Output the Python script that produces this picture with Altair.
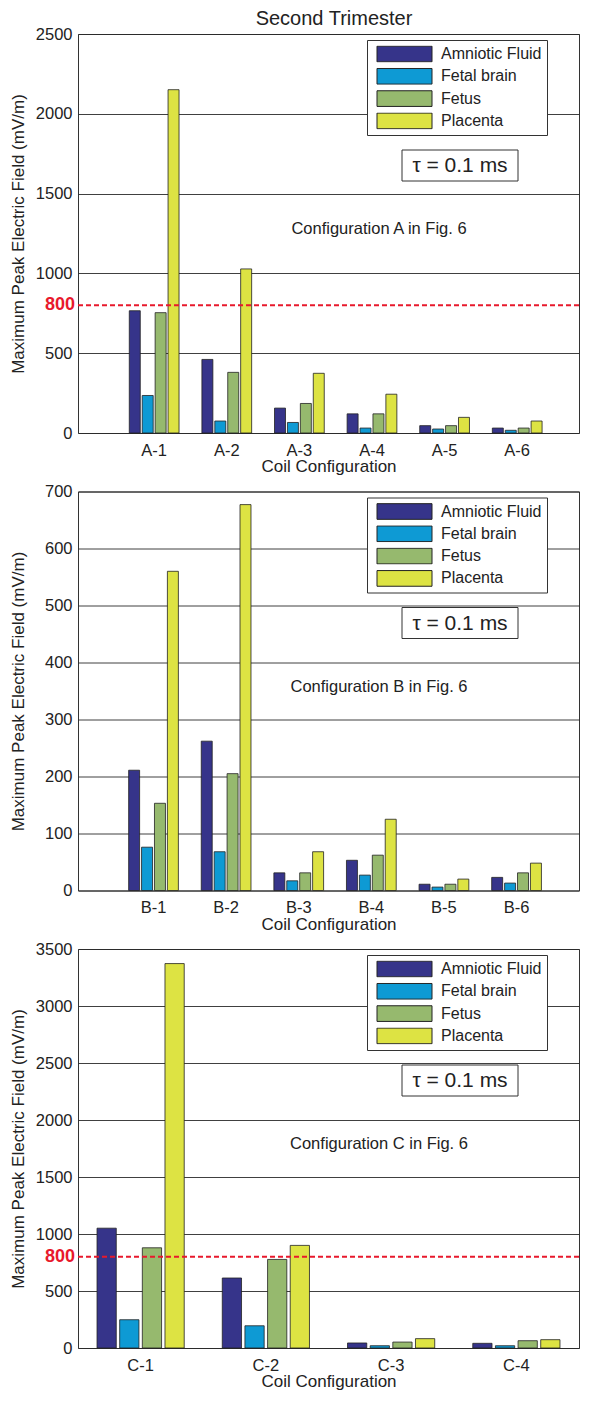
import altair as alt
import pandas as pd

# ---------------- data ----------------
series = ["Amniotic Fluid", "Fetal brain", "Fetus", "Placenta"]
colors = ["#36348a", "#0e9ad4", "#96b96e", "#dde343"]

cats_a = ["A-1", "A-2", "A-3", "A-4", "A-5", "A-6"]
amniotic_a = [766, 461, 156, 120, 46, 31]
brain_a = [235, 75, 66, 31, 25, 17]
fetus_a = [754, 380, 185, 120, 46, 31]
placenta_a = [2151, 1028, 374, 243, 98, 75]
yticks_a = [0, 500, 1000, 1500, 2000, 2500]

cats_b = ["B-1", "B-2", "B-3", "B-4", "B-5", "B-6"]
amniotic_b = [211, 262, 31, 53, 11, 23]
brain_b = [76, 68, 17, 27, 6, 13]
fetus_b = [153, 205, 31, 62, 11, 31]
placenta_b = [560, 677, 68, 125, 20, 48]
yticks_b = [0, 100, 200, 300, 400, 500, 600, 700]

cats_c = ["C-1", "C-2", "C-3", "C-4"]
amniotic_c = [1051, 614, 44, 41]
brain_c = [248, 195, 20, 20]
fetus_c = [879, 777, 52, 64]
placenta_c = [3372, 900, 82, 73]
yticks_c = [0, 500, 1000, 1500, 2000, 2500, 3000, 3500]

threshold = 800
threshold_label = "800"
tau_text = "τ = 0.1 ms"
main_title = "Second Trimester"
x_title = "Coil Configuration"
y_title = "Maximum Peak Electric Field (mV/m)"

FONT = "Liberation Sans"
TXT = "#222222"
RED = "#e8192c"

W, H = 501, 399


def panel(cats, vals, yticks, note, outer, align, outer_o, show_threshold, title=None):
    rows = []
    for s, arr in zip(series, vals):
        for c, v in zip(cats, arr):
            rows.append({"Coil": c, "Tissue": s, "Value": v})
    df = pd.DataFrame(rows)

    bars = alt.Chart(df).mark_bar(stroke="#222222", strokeWidth=0.8).encode(
        x=alt.X("Coil:N", sort=cats,
                scale=alt.Scale(paddingInner=0, paddingOuter=outer, align=align),
                axis=alt.Axis(title=x_title, labelAngle=0, ticks=False, tickSize=0,
                              labelPadding=9, titlePadding=0, domain=False, grid=False,
                              labelFontSize=16.5, titleFontSize=17)),
        xOffset=alt.XOffset("Tissue:N", sort=series,
                            scale=alt.Scale(paddingInner=0.15, paddingOuter=outer_o)),
        y=alt.Y("Value:Q",
                scale=alt.Scale(domain=[0, yticks[-1]], nice=False, zero=True),
                axis=alt.Axis(title=y_title, values=yticks, format="d", ticks=False, tickSize=0,
                              labelPadding=6, domain=False, grid=True,
                              minExtent=43, maxExtent=43, titlePadding=8,
                              labelFontSize=16.5, titleFontSize=17)),
        fill=alt.Fill("Tissue:N", sort=series,
                      scale=alt.Scale(domain=series, range=colors),
                      legend=alt.Legend(title=None, orient="none", legendX=289, legendY=6,
                                        symbolType="M-1,-0.285H1V0.285H-1Z",
                                        symbolSize=3025, symbolStrokeColor="#222222",
                                        symbolStrokeWidth=1, symbolOpacity=1,
                                        symbolOffset=4, labelOffset=8.5,
                                        clipHeight=17, rowPadding=5.3, padding=5.5,
                                        labelFontSize=16, labelColor=TXT, labelFont=FONT,
                                        strokeColor="#333333", fillColor="white")),
    )

    layers = [bars]

    note_layer = alt.Chart(alt.Data(values=[{"t": note}])).mark_text(
        fontSize=16.5, color=TXT, align="center", baseline="middle", font=FONT
    ).encode(x=alt.value(301), y=alt.value(195), text="t:N")

    tau_box = alt.Chart(alt.Data(values=[{"t": tau_text}])).mark_rect(
        fill="white", stroke="#333333", strokeWidth=1
    ).encode(x=alt.value(324), x2=alt.value(440), y=alt.value(116), y2=alt.value(147))

    tau_layer = alt.Chart(alt.Data(values=[{"t": tau_text}])).mark_text(
        fontSize=21, color=TXT, align="center", baseline="middle", font=FONT
    ).encode(x=alt.value(382), y=alt.value(132), text="t:N")

    layers += [note_layer, tau_box, tau_layer]

    if show_threshold:
        thr = pd.DataFrame({"Value": [threshold], "lab": [threshold_label]})
        rule = alt.Chart(thr).mark_rule(color=RED, strokeWidth=2, strokeDash=[5, 3]).encode(
            y="Value:Q")
        lab = alt.Chart(thr).mark_text(
            color=RED, fontSize=18, fontWeight="bold", align="right", baseline="middle", font=FONT
        ).encode(y="Value:Q", x=alt.value(-3), text="lab:N")
        layers += [rule, lab]

    if title is not None:
        ttl = alt.Chart(alt.Data(values=[{"t": title}])).mark_text(
            fontSize=20, color=TXT, align="center", baseline="alphabetic", font=FONT
        ).encode(x=alt.value(256), y=alt.value(-9), text="t:N")
        layers.append(ttl)

    return alt.layer(*layers).properties(width=W, height=H)


pa = panel(cats_a, [amniotic_a, brain_a, fetus_a, placenta_a], yticks_a,
           "Configuration A in Fig. 6", 0.45, 0.61, 0.885, True, title=main_title)
pb = panel(cats_b, [amniotic_b, brain_b, fetus_b, placenta_b], yticks_b,
           "Configuration B in Fig. 6", 0.45, 0.6, 0.885, False)
pc = panel(cats_c, [amniotic_c, brain_c, fetus_c, placenta_c], yticks_c,
           "Configuration C in Fig. 6", 0.0, 0.5, 0.84, True)

chart = alt.vconcat(pa, pb, pc, spacing=7.5).resolve_scale(
    fill="independent", x="independent", y="independent", xOffset="independent"
).resolve_legend(fill="independent").properties(
    padding={"left": 0, "top": 0, "right": 0, "bottom": 0}
).configure(font=FONT).configure_view(
    stroke="#333333", strokeWidth=1
).configure_axis(
    gridColor="#2a2a2a", gridWidth=0.9, labelColor=TXT, titleColor=TXT,
    labelFont=FONT, titleFont=FONT, titleFontWeight="normal"
)

chart.save("out.html", embed_options={"renderer": "svg", "actions": False})
